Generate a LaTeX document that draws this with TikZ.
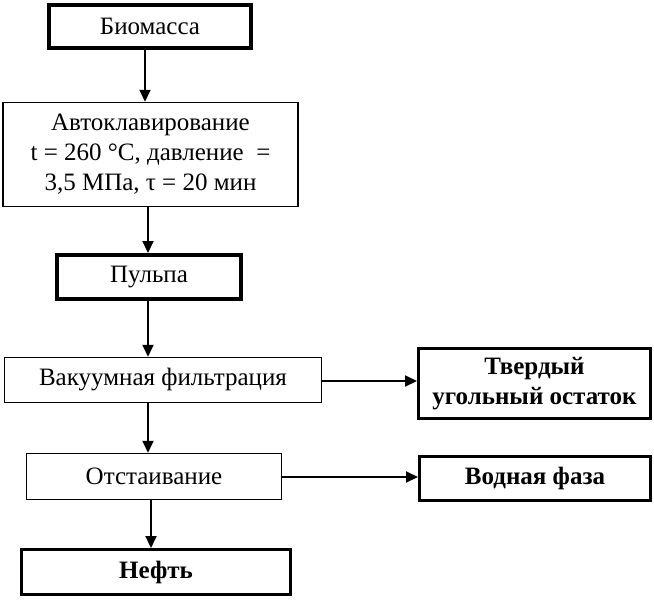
\documentclass[tikz,border=0pt]{standalone}
\usepackage{fontspec}
\setmainfont{Liberation Serif}
\usetikzlibrary{arrows.meta}
\tikzset{
  thinbox/.style={draw, line width=1.5pt, inner sep=0pt, align=center, font=\fontsize{25}{30}\selectfont},
  thickbox/.style={draw, line width=4pt, inner sep=0pt, align=center, font=\fontsize{25}{30}\selectfont},
  boldbox/.style={thickbox, font=\fontsize{25}{30}\selectfont\bfseries, line width=3pt},
  arr/.style={line width=2pt, -{Triangle[length=12pt,width=11pt]}}
}
\begin{document}
\begin{tikzpicture}[x=1pt,y=-1pt]
\useasboundingbox (0,0) rectangle (654,600);
\node[thickbox, minimum width=202pt, minimum height=43pt] (bio) at (150,26.5) {Биомасса};
\node[thinbox, minimum width=295pt, minimum height=104pt] (auto) at (150.5,154.5) {Автоклавирование\\t = 260 °C, давление \ =\\3,5 МПа, τ = 20 мин};
\node[thickbox, minimum width=184pt, minimum height=44pt] (pulp) at (149,277) {Пульпа};
\node[thinbox, minimum width=317pt, minimum height=45pt] (vac) at (163,380) {Вакуумная фильтрация};
\node[boldbox, minimum width=232pt, minimum height=70pt] (solid) at (534.5,383.5) {Твердый\\угольный остаток};
\node[thinbox, minimum width=255pt, minimum height=46pt] (settle) at (154,476.5) {Отстаивание};
\node[boldbox, minimum width=231pt, minimum height=44pt] (water) at (535,478.5) {Водная фаза};
\node[boldbox, minimum width=269pt, minimum height=45pt] (oil) at (156,572) {Нефть};
\coordinate (xa) at (145,0);
\coordinate (xb) at (148,0);
\coordinate (xc) at (151,0);
\draw[arr] (bio.south -| xa) -- (auto.north -| xa);
\draw[arr] (auto.south -| xb) -- (pulp.north -| xb);
\draw[arr] (pulp.south -| xb) -- (vac.north -| xb);
\draw[arr] (vac.south -| xb) -- (settle.north -| xb);
\draw[arr] (settle.south -| xc) -- (oil.north -| xc);
\coordinate (ya) at (0,381);
\coordinate (yb) at (0,477);
\draw[arr] (vac.east |- ya) -- (solid.west |- ya);
\draw[arr] (settle.east |- yb) -- (water.west |- yb);
\end{tikzpicture}
\end{document}
